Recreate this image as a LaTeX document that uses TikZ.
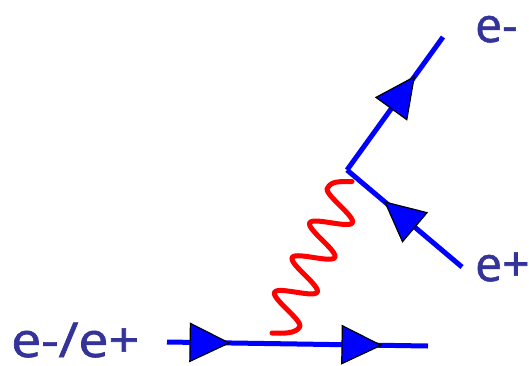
\documentclass[tikz,border=0pt]{standalone}
\usepackage{fontspec}
\setmainfont{Open Sans}
\newfontfamily\labfont{Open Sans}[FakeBold=1.3]
\usetikzlibrary{decorations.markings}
\definecolor{lbl}{RGB}{51,51,153}
\tikzset{
  fermion/.style={draw=blue, line width=5pt},
  photon/.style={draw=red, line width=5pt, line cap=round, line join=round},
  lab/.style={text=lbl, font=\labfont\fontsize{48}{48}\selectfont, inner sep=0pt, anchor=base west},
  tri/.style={fill=blue, draw=black, line width=1.2pt, line join=miter},
  arrowat/.style={postaction={decorate}, decoration={markings, mark=at position #1 with {
     \filldraw[tri] (-39pt,-19pt) -- (0pt,0pt) -- (-39pt,19pt) -- cycle;}}},
  twoarrows/.style 2 args={postaction={decorate}, decoration={markings,
     mark=at position #1 with {\filldraw[tri] (-39pt,-19pt) -- (0pt,0pt) -- (-39pt,19pt) -- cycle;},
     mark=at position #2 with {\filldraw[tri] (-39pt,-19pt) -- (0pt,0pt) -- (-39pt,19pt) -- cycle;}}}
}
\begin{document}
\begin{tikzpicture}[x=1pt, y=-1pt]
\useasboundingbox (0,0) rectangle (529,365);
\coordinate (in) at (167,342);
\coordinate (out) at (428,346);
\coordinate (v) at (347,170);
\coordinate (em) at (443,37);
\coordinate (ep) at (462,267);
\coordinate (phA) at (352,181.5);
\coordinate (phB) at (272,333);
% photon
\draw[photon] (phA) .. controls (338,181.5) and (331,181.2) .. (327.4,188.3)
  -- plot[domain=-9.3:127.2, samples=140, variable=\u]
     ({340-0.45*\u-16.91*cos(9.2308*(\u+9.3))}, {205+0.89*\u-8.55*cos(9.2308*(\u+9.3))})
  .. controls (296.1,333.9) and (282,333.5) .. (phB);
% fermions
\draw[fermion, twoarrows={0.238}{0.82}] (in) -- (out);
\draw[fermion, arrowat=0.70] (v) -- (em);
\draw[fermion, arrowat=0.67] (ep) -- (v);
% labels
\node[lab] (lem) at (475,42) {e-};
\node[lab] (lep) at (475,281) {e+};
\node[lab] (lin) at (11,357) {\raisebox{0pt}[\height][0pt]{\scalebox{1.12}[1]{e-/e+}}};
\end{tikzpicture}
\end{document}
